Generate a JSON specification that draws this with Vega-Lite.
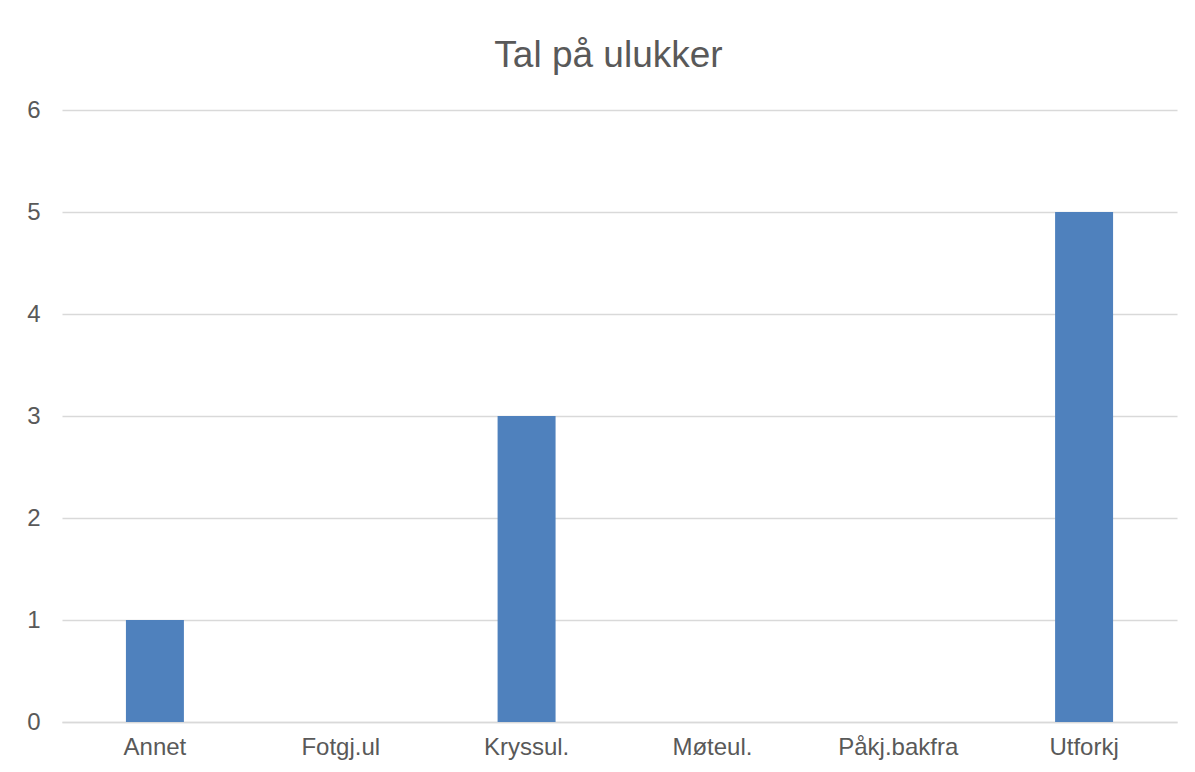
{
  "$schema": "https://vega.github.io/schema/vega-lite/v6.json",
  "width": 1115,
  "height": 612,
  "autosize": {"type": "none"},
  "padding": {"left": 62, "top": 110, "right": 18, "bottom": 50},
  "background": "white",
  "title": {
    "text": "Tal på ulukker",
    "font": "Liberation Sans",
    "fontSize": 37,
    "fontWeight": "normal",
    "color": "#595959",
    "baseline": "alphabetic",
    "anchor": "middle",
    "frame": "group",
    "dx": -11,
    "offset": -6
  },
  "data": {
    "values": [
      {"kategori": "Annet", "antal": 1},
      {"kategori": "Fotgj.ul", "antal": 0},
      {"kategori": "Kryssul.", "antal": 3},
      {"kategori": "Møteul.", "antal": 0},
      {"kategori": "Påkj.bakfra", "antal": 0},
      {"kategori": "Utforkj", "antal": 5}
    ]
  },
  "mark": {"type": "bar", "color": "#4F81BD"},
  "encoding": {
    "x": {
      "field": "kategori",
      "type": "nominal",
      "sort": null,
      "scale": {"paddingInner": 0.688, "paddingOuter": 0.344},
      "axis": {
        "title": null,
        "labelAngle": 0,
        "labelFont": "Liberation Sans",
        "labelFontSize": 24,
        "labelColor": "#595959",
        "labelPadding": 13,
        "ticks": false,
        "domainColor": "#D9D9D9",
        "domainWidth": 1.5,
        "grid": false
      }
    },
    "y": {
      "field": "antal",
      "type": "quantitative",
      "scale": {"domain": [0, 6], "nice": false},
      "axis": {
        "title": null,
        "values": [0, 1, 2, 3, 4, 5, 6],
        "labelFont": "Liberation Sans",
        "labelFontSize": 24,
        "labelColor": "#595959",
        "labelPadding": 22,
        "ticks": false,
        "domain": false,
        "grid": true,
        "gridColor": "#D9D9D9",
        "gridWidth": 1.5
      }
    }
  },
  "config": {"view": {"stroke": null}}
}
